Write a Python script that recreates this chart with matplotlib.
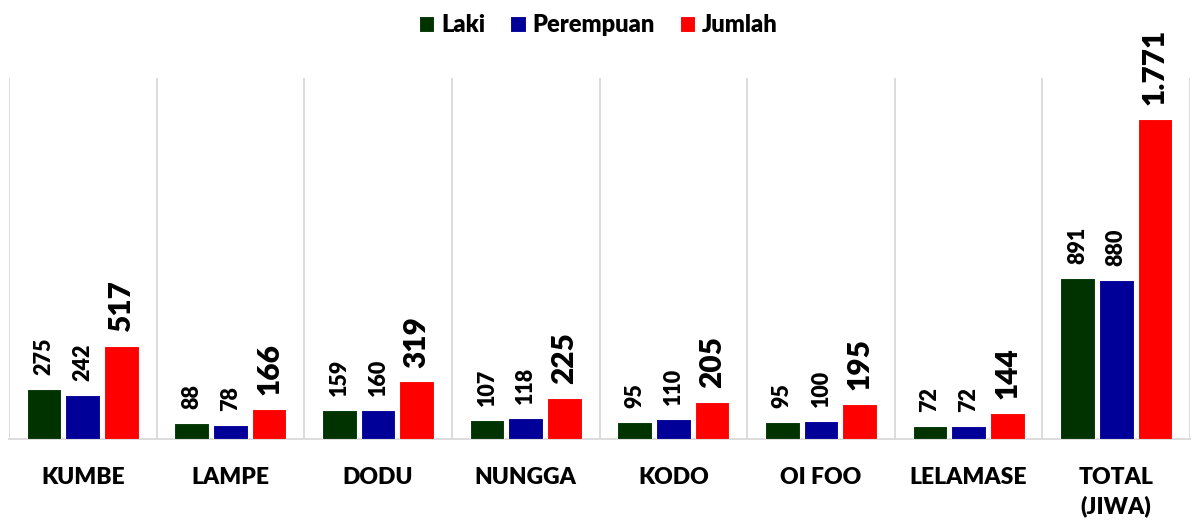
import matplotlib
matplotlib.use("Agg")
import matplotlib.pyplot as plt
import numpy as np
from matplotlib.ticker import FixedLocator

plt.rcParams['font.family'] = ['Lato', 'DejaVu Sans']
plt.rcParams['font.weight'] = 'heavy'

categories = ["KUMBE", "LAMPE", "DODU", "NUNGGA", "KODO", "OI FOO", "LELAMASE", "TOTAL\n(JIWA)"]
laki = [275, 88, 159, 107, 95, 95, 72, 891]
perempuan = [242, 78, 160, 118, 110, 100, 72, 880]
jumlah = [517, 166, 319, 225, 205, 195, 144, 1771]
series_names = ["Laki", "Perempuan", "Jumlah"]
colors = ["#003300", "#000099", "#ff0000"]

def fmt(v):
    return f"{v:,}".replace(",", ".")

fig = plt.figure(figsize=(11.97, 5.20), dpi=100)
ax = fig.add_axes([0.0075, 0.1558, 0.9867, 0.6942])

x = np.arange(len(categories))
width = 0.235
offset = 0.262
series = [laki, perempuan, jumlah]
for i, (vals, name, c) in enumerate(zip(series, series_names, colors)):
    pos = x + (i - 1) * offset
    bars = ax.bar(pos, vals, width, color=c, edgecolor='white', linewidth=0.8, label=name, zorder=3)
    fs = 21.5 if i == 2 else 15.5
    for b, v in zip(bars, vals):
        ax.annotate(fmt(v), (b.get_x() + b.get_width() / 2, b.get_height()),
                    xytext=(0, 10), textcoords='offset points', rotation=90,
                    ha='center', va='bottom', fontsize=fs, fontweight='heavy', color='black')

ax.set_xlim(-0.5, len(categories) - 0.5)
ax.set_ylim(0, 2000)
ax.set_xticks(x)
ax.set_xticklabels(categories, fontsize=16.5, fontweight='heavy', linespacing=1.45)
ax.xaxis.set_minor_locator(FixedLocator(np.arange(len(categories) + 1) - 0.5))
ax.tick_params(axis='x', which='both', length=0, pad=20)
ax.set_yticks([])
ax.grid(which='minor', axis='x', color='#d9d9d9', linewidth=1.3, zorder=0)
for s in ['top', 'right', 'left']:
    ax.spines[s].set_visible(False)
ax.spines['bottom'].set_color('#d9d9d9')
ax.spines['bottom'].set_linewidth(1.3)

leg = fig.legend(loc='center', bbox_to_anchor=(0.5, 0.952), ncol=3, frameon=False,
                 prop={'size': 17, 'weight': 'heavy'}, handlelength=0.65, handleheight=0.65,
                 handletextpad=0.3, columnspacing=1.05)

fig.savefig("out.png", dpi=100)
